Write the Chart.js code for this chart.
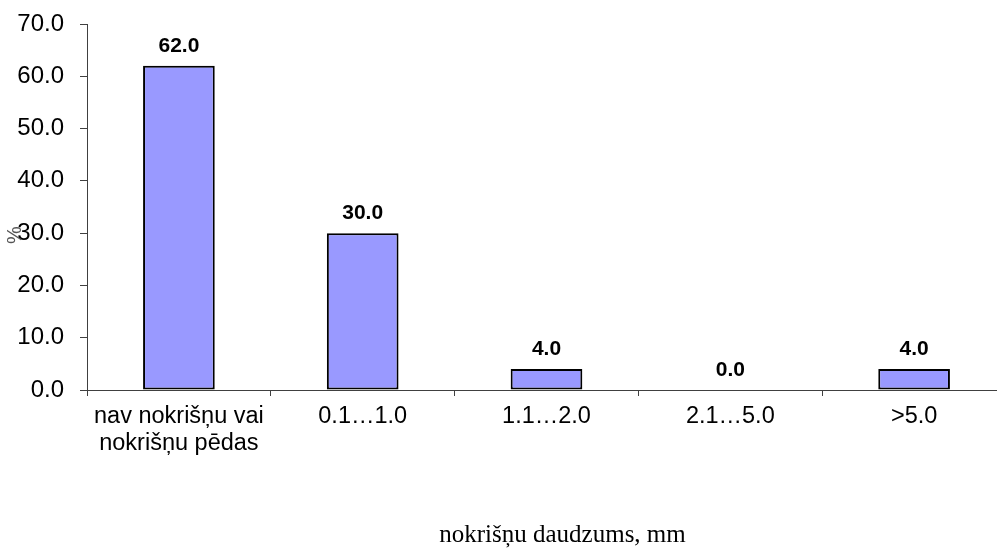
<!DOCTYPE html>
<html>
<head>
<meta charset="utf-8">
<script src="https://cdn.jsdelivr.net/npm/chart.js@4/dist/chart.umd.min.js"></script>
<style>
  html, body { margin: 0; padding: 0; background: #fff; overflow: hidden; }
  canvas { display: block; }
</style>
</head>
<body>
<canvas id="chart" width="1006" height="550"></canvas>
<script>
const categories = [
  ["nav nokrišņu vai", "nokrišņu pēdas"],
  "0.1…1.0",
  "1.1…2.0",
  "2.1…5.0",
  ">5.0"
];
const percents = [62.0, 30.0, 4.0, 0.0, 4.0];
const yTicks = [0, 10, 20, 30, 40, 50, 60, 70];
const yTitle = "%";
const xTitle = "nokrišņu daudzums, mm";

const axisColor = "#404040";

// value labels above bars
const valueLabels = {
  id: "valueLabels",
  afterDatasetsDraw(chart) {
    const ctx = chart.ctx;
    const meta = chart.getDatasetMeta(0);
    ctx.save();
    ctx.font = "bold 21px 'Liberation Sans', Arial, sans-serif";
    ctx.fillStyle = "#000";
    ctx.textAlign = "center";
    ctx.textBaseline = "bottom";
    meta.data.forEach((bar, i) => {
      ctx.fillText(percents[i].toFixed(1), bar.x, bar.y - 9);
    });
    ctx.restore();
  }
};

// axis titles placed like in the original sheet
const axisTitles = {
  id: "axisTitles",
  afterDraw(chart) {
    const ctx = chart.ctx;
    const area = chart.chartArea;
    ctx.save();
    ctx.fillStyle = "#000";
    ctx.textAlign = "center";
    ctx.textBaseline = "middle";

    ctx.font = "25px 'Liberation Serif', 'Times New Roman', serif";
    ctx.fillText(xTitle, (area.left + area.right) / 2 + 16, 535);

    ctx.translate(15, (area.top + area.bottom) / 2 + 28);
    ctx.rotate(-Math.PI / 2);
    ctx.fillStyle = "#555";
    ctx.font = "20px 'Liberation Sans', Arial, sans-serif";
    ctx.fillText(yTitle, 0, 0);
    ctx.restore();
  }
};

new Chart(document.getElementById("chart"), {
  type: "bar",
  data: {
    labels: categories,
    datasets: [
      {
        data: percents,
        backgroundColor: "#9999FF",
        borderColor: "#000",
        borderWidth: ctx => (ctx.raw === 0 ? 0 : 2),
        borderSkipped: false,
        barPercentage: 0.39,
        categoryPercentage: 1
      }
    ]
  },
  options: {
    responsive: false,
    animation: false,
    layout: { padding: { top: 24, left: 0, right: 0, bottom: 0 } },
    plugins: {
      legend: { display: false },
      tooltip: { enabled: false }
    },
    scales: {
      x: {
        offset: true,
        grid: {
          offset: true,
          drawOnChartArea: false,
          drawTicks: true,
          tickLength: 6,
          color: axisColor
        },
        border: { display: true, color: axisColor, width: 1 },
        ticks: {
          color: "#000",
          padding: 7,
          maxRotation: 0,
          autoSkip: false,
          font: { family: "'Liberation Sans', Arial, sans-serif", size: 23.5, lineHeight: 1.15 }
        },
        afterFit(scale) {
          scale.height = 550 - 390;
        }
      },
      y: {
        min: 0,
        max: 70,
        afterBuildTicks(scale) {
          scale.ticks = yTicks.map(v => ({ value: v }));
        },
        grid: {
          drawOnChartArea: false,
          drawTicks: true,
          tickLength: 7,
          color: axisColor
        },
        border: { display: true, color: axisColor, width: 1 },
        ticks: {
          color: "#000",
          padding: 16,
          font: { family: "'Liberation Sans', Arial, sans-serif", size: 24 },
          callback: v => Number(v).toFixed(1)
        },
        afterFit(scale) {
          scale.width = 87;
          scale.paddingTop = 0;
          scale.paddingBottom = 0;
        }
      }
    }
  },
  plugins: [valueLabels, axisTitles]
});
</script>
</body>
</html>
